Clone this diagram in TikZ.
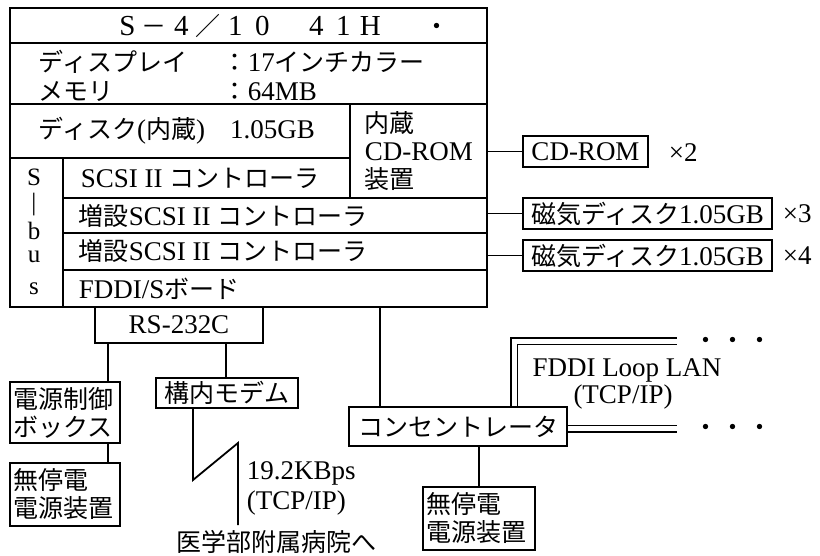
\documentclass[tikz,border=0pt]{standalone}
\usepackage{fontspec}
\setmainfont{Liberation Serif}
\newfontfamily\jp{Noto Sans CJK JP}
\newcommand\J[1]{{\jp\fontsize{25}{28}\selectfont #1}}
\newcommand\fw[1]{\makebox[27pt]{#1}}
\begin{document}
\begin{tikzpicture}[x=1pt,y=-1pt,line width=1.8pt,
  every node/.style={font=\fontsize{27}{28}\selectfont, inner sep=0pt},
  box/.style={draw, line width=1.8pt, inner sep=0pt},
  lbl/.style={anchor=west},
  bus/.style={font=\fontsize{25}{25}\selectfont},
  dbl/.style={double, double distance=5pt, line width=1.5pt}]
\useasboundingbox (0,0) rectangle (820,556);

% main unit
\node[box, minimum width=477pt, minimum height=299pt] (main) at (248.5,157.5) {};
\draw (10,43) -- (487,43);
\draw (10,104) -- (487,104);
\draw (10,158) -- (350,158);
\draw (350,104) -- (350,198);
\draw (63,158) -- (63,307);
\draw (63,198) -- (487,198);
\draw (63,233) -- (487,233);
\draw (63,270) -- (487,270);

\node[lbl, font=\fontsize{29}{30}\selectfont] (title) at (113,26) {\fw{S}\fw{\J{－}}\fw{4}\fw{\J{／}}\fw{1}\fw{0}\fw{}\fw{4}\fw{1}\fw{H}\hspace{41pt}\J{・}};
\node[lbl] (disp) at (38,62) {\J{ディスプレイ}};
\node[lbl] (dispv) at (222,62) {\J{：}17\J{インチカラー}};
\node[lbl] (mem) at (38,92) {\J{メモリ}};
\node[lbl] (memv) at (222,92) {\J{：}64MB};
\node[lbl] (disk) at (38,131) {\J{ディスク}(\J{内蔵})\hspace{25pt}1.05GB};
\node[lbl, align=left] (cdin) at (364,151) {\J{内蔵}\\CD-ROM\\\J{装置}};
\node[lbl] (scsi) at (80,178) {SCSI II \J{コントローラ}};
\node[lbl] (scsi1) at (78,216) {\J{増設}SCSI II \J{コントローラ}};
\node[lbl] (scsi2) at (78,251) {\J{増設}SCSI II \J{コントローラ}};
\node[lbl] (fddis) at (78,289) {FDDI/S\J{ボード}};
\node[bus] (bS) at (34,177) {S};
\node[bus] (bbar) at (34,205) {|};
\node[bus] (bb) at (34,231) {b};
\node[bus] (bu) at (34,257) {u};
\node[bus] (bs) at (34,289) {s};

% external devices
\node[box, minimum width=125pt, minimum height=31pt] (cd) at (585.5,151.5) {CD-ROM};
\node[lbl] (x2) at (668,153) {×2};
\node[box, minimum width=249pt, minimum height=31pt] (d1) at (647.5,213.5) {\J{磁気ディスク}1.05GB};
\node[lbl] (x3) at (782,213.5) {×3};
\node[box, minimum width=249pt, minimum height=31pt] (d2) at (647.5,255.5) {\J{磁気ディスク}1.05GB};
\node[lbl] (x4) at (782,255.5) {×4};
\draw (main.east |- cd.west) -- (cd.west);
\draw (main.east |- d1.west) -- (d1.west);
\draw (main.east |- d2.west) -- (d2.west);

% lower part
\node[box, minimum width=168pt, minimum height=36pt] (rs) at (179,325) {RS-232C};
\node[box, minimum width=110pt, minimum height=61pt, align=left, text width=104pt] (pwr) at (65,412.5) {\J{電源制御}\\\J{ボックス}};
\node[box, minimum width=110pt, minimum height=63pt, align=left, text width=104pt] (ups1) at (65,494.5) {\J{無停電}\\\J{電源装置}};
\node[box, minimum width=142pt, minimum height=30pt] (modem) at (227,393) {\J{構内モデム}};
\node[box, minimum width=218pt, minimum height=39pt] (conc) at (458,426.5) {\J{コンセントレータ}};
\node[box, minimum width=112pt, minimum height=63pt, align=left, text width=106pt] (ups2) at (479,518.5) {\J{無停電}\\\J{電源装置}};

\coordinate (xa) at (108,0);
\coordinate (xb) at (226,0);
\coordinate (xm) at (380,0);
\draw (rs.south -| xa) -- (pwr.north -| xa);
\draw (pwr.south -| xa) -- (ups1.north -| xa);
\draw (rs.south -| xb) -- (modem.north -| xb);
\draw (main.south -| xm) -- (conc.north -| xm);
\draw (conc.south -| ups2.north) -- (ups2.north);

% radio link
\coordinate (l0) at (193,0);
\coordinate (l1) at (193,480);
\coordinate (l2) at (238,443);
\coordinate (l3) at (238,525);
\draw[line join=miter] (modem.south -| l0) -- (l1) -- (l2) -- (l3);
\node[lbl] (rate) at (246,473) {19.2KBps};
\node[lbl] (tcp1) at (246,503) {(TCP/IP)};
\node (hosp) at (276,542) {\J{医学部附属病院へ}};

% FDDI loop
\coordinate (f0) at (514,406.2);
\coordinate (f1) at (514,341.5);
\coordinate (f2) at (677,341.5);
\coordinate (f3) at (567.9,428.5);
\coordinate (f4) at (677,428.5);
\draw[dbl, line join=miter] (f0) -- (f1) -- (f2);
\draw[dbl] (f3) -- (f4);
\node (dots1) at (733,343) {\J{・}\hspace{2pt}\J{・}\hspace{2pt}\J{・}};
\node (dots2) at (733,430) {\J{・}\hspace{2pt}\J{・}\hspace{2pt}\J{・}};
\node (fddi) at (627,370) {FDDI Loop LAN};
\node (tcp2) at (623,397) {(TCP/IP)};
\end{tikzpicture}
\end{document}
